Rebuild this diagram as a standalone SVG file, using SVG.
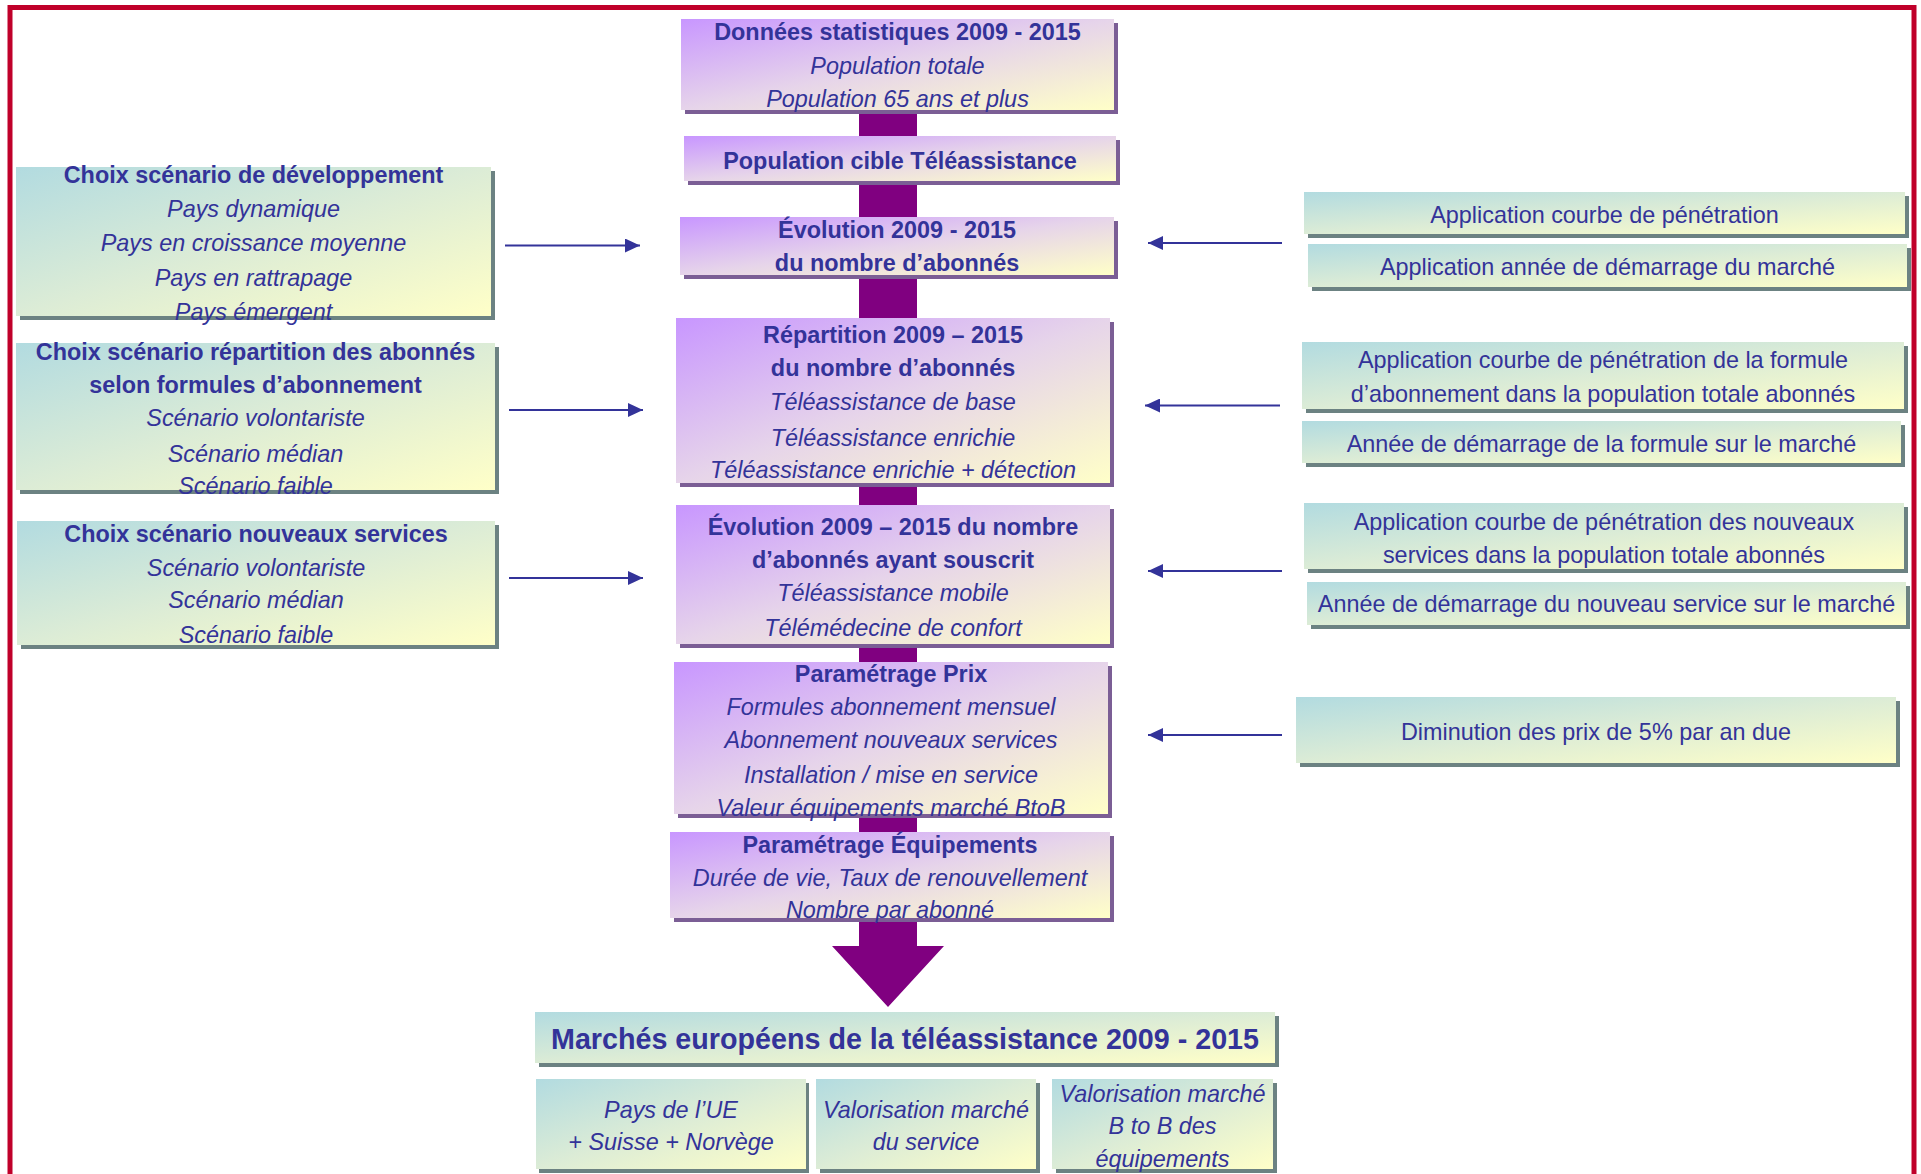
<svg xmlns="http://www.w3.org/2000/svg" width="1921" height="1174" viewBox="0 0 1921 1174">
<style>
.t{font-family:"Liberation Sans",Arial,sans-serif;font-size:23.4px;fill:#333399;text-anchor:middle}
.b{font-weight:bold}
.i{font-style:italic}
.big{font-size:28.7px}
.pv{fill:url(#gp)}
.tl{fill:url(#gt)}
.sp{fill:#7b5e95}
.st{fill:#6c8282}
.ar{stroke:#333399;stroke-width:2.2;fill:none;marker-end:url(#ah)}
.bar{fill:#800080}
</style>
<defs>
<linearGradient id="gp" x1="0" y1="0" x2="1" y2="1">
<stop offset="0" stop-color="#c896ff"/>
<stop offset="0.5" stop-color="#e6d4ea"/>
<stop offset="1" stop-color="#ffffc8"/>
</linearGradient>
<linearGradient id="gt" x1="0" y1="0" x2="1" y2="1">
<stop offset="0" stop-color="#b2dbe0"/>
<stop offset="0.5" stop-color="#dcecd6"/>
<stop offset="1" stop-color="#ffffc8"/>
</linearGradient>
<marker id="ah" viewBox="0 0 15 14" refX="15" refY="7" markerWidth="15" markerHeight="14" markerUnits="userSpaceOnUse" orient="auto">
<path d="M0,0 L15,7 L0,14 z" fill="#333399"/>
</marker>
</defs>
<rect x="0" y="0" width="1921" height="1174" fill="#ffffff"/>
<rect id="frame" x="10" y="7.5" width="1904" height="1250" fill="none" stroke="#c0002a" stroke-width="5"/>

<g id="connectors">
<rect class="bar" x="859" y="110" width="58" height="30"/>
<rect class="bar" x="859" y="181" width="58" height="40"/>
<rect class="bar" x="859" y="275" width="58" height="47"/>
<rect class="bar" x="859" y="483" width="58" height="26"/>
<rect class="bar" x="859" y="644" width="58" height="22"/>
<rect class="bar" x="859" y="814" width="58" height="22"/>
<polygon class="bar" points="859,918 917,918 917,946 944,946 888,1007 832,946 859,946"/>
<line class="ar" x1="505" y1="245.5" x2="640" y2="245.5"/>
<line class="ar" x1="509" y1="410" x2="643" y2="410"/>
<line class="ar" x1="509" y1="578" x2="643" y2="578"/>
<line class="ar" x1="1282" y1="243" x2="1148" y2="243"/>
<line class="ar" x1="1280" y1="405.5" x2="1145" y2="405.5"/>
<line class="ar" x1="1282" y1="571" x2="1148" y2="571"/>
<line class="ar" x1="1282" y1="735" x2="1148" y2="735"/>
</g>

<g id="c1">
<rect class="sp" x="685" y="23" width="433" height="91"/>
<rect class="pv" x="681" y="19" width="433" height="91"/>
<text class="t b" x="897.5" y="40">Données statistiques 2009 - 2015</text>
<text class="t i" x="897.5" y="73.5">Population totale</text>
<text class="t i" x="897.5" y="107">Population 65 ans et plus</text>
</g>
<g id="c2">
<rect class="sp" x="688" y="140" width="432" height="45"/>
<rect class="pv" x="684" y="136" width="432" height="45"/>
<text class="t b" x="900" y="168.5">Population cible Téléassistance</text>
</g>
<g id="c3">
<rect class="sp" x="684" y="221" width="434" height="58"/>
<rect class="pv" x="680" y="217" width="434" height="58"/>
<text class="t b" x="897" y="238">Évolution 2009 - 2015</text>
<text class="t b" x="897" y="271">du nombre d’abonnés</text>
</g>
<g id="c4">
<rect class="sp" x="680" y="322" width="434" height="165"/>
<rect class="pv" x="676" y="318" width="434" height="165"/>
<text class="t b" x="893" y="343">Répartition 2009 – 2015</text>
<text class="t b" x="893" y="376">du nombre d’abonnés</text>
<text class="t i" x="893" y="410">Téléassistance de base</text>
<text class="t i" x="893" y="445.5">Téléassistance enrichie</text>
<text class="t i" x="893" y="478">Téléassistance enrichie + détection</text>
</g>
<g id="c5">
<rect class="sp" x="680" y="509" width="434" height="139"/>
<rect class="pv" x="676" y="505" width="434" height="139"/>
<text class="t b" x="893" y="534.5">Évolution 2009 – 2015 du nombre</text>
<text class="t b" x="893" y="568">d’abonnés ayant souscrit</text>
<text class="t i" x="893" y="600.5">Téléassistance mobile</text>
<text class="t i" x="893" y="636">Télémédecine de confort</text>
</g>
<g id="c6">
<rect class="sp" x="678" y="666" width="434" height="152"/>
<rect class="pv" x="674" y="662" width="434" height="152"/>
<text class="t b" x="891" y="682">Paramétrage Prix</text>
<text class="t i" x="891" y="714.5">Formules abonnement mensuel</text>
<text class="t i" x="891" y="747.5">Abonnement nouveaux services</text>
<text class="t i" x="891" y="782.5">Installation / mise en service</text>
<text class="t i" x="891" y="816">Valeur équipements marché BtoB</text>
</g>
<g id="c7">
<rect class="sp" x="674" y="836" width="440" height="86"/>
<rect class="pv" x="670" y="832" width="440" height="86"/>
<text class="t b" x="890" y="852.5">Paramétrage Équipements</text>
<text class="t i" x="890" y="885.5">Durée de vie, Taux de renouvellement</text>
<text class="t i" x="890" y="918">Nombre par abonné</text>
</g>

<g id="l1">
<rect class="st" x="20" y="171" width="475" height="149"/>
<rect class="tl" x="16" y="167" width="475" height="149"/>
<text class="t b" x="253.5" y="183">Choix scénario de développement</text>
<text class="t i" x="253.5" y="216.5">Pays dynamique</text>
<text class="t i" x="253.5" y="251">Pays en croissance moyenne</text>
<text class="t i" x="253.5" y="286">Pays en rattrapage</text>
<text class="t i" x="253.5" y="319.5">Pays émergent</text>
</g>
<g id="l2">
<rect class="st" x="20" y="347" width="479" height="147"/>
<rect class="tl" x="16" y="343" width="479" height="147"/>
<text class="t b" x="255.5" y="360">Choix scénario répartition des abonnés</text>
<text class="t b" x="255.5" y="393">selon formules d’abonnement</text>
<text class="t i" x="255.5" y="426">Scénario volontariste</text>
<text class="t i" x="255.5" y="461.5">Scénario médian</text>
<text class="t i" x="255.5" y="494">Scénario faible</text>
</g>
<g id="l3">
<rect class="st" x="21" y="525" width="478" height="124"/>
<rect class="tl" x="17" y="521" width="478" height="124"/>
<text class="t b" x="256" y="542">Choix scénario nouveaux services</text>
<text class="t i" x="256" y="575.5">Scénario volontariste</text>
<text class="t i" x="256" y="608">Scénario médian</text>
<text class="t i" x="256" y="643">Scénario faible</text>
</g>

<g id="r1">
<rect class="st" x="1308" y="196" width="601" height="42"/>
<rect class="tl" x="1304" y="192" width="601" height="42"/>
<text class="t" x="1604.5" y="223">Application courbe de pénétration</text>
</g>
<g id="r2">
<rect class="st" x="1312" y="248" width="599" height="43"/>
<rect class="tl" x="1308" y="244" width="599" height="43"/>
<text class="t" x="1607.5" y="275">Application année de démarrage du marché</text>
</g>
<g id="r3">
<rect class="st" x="1306" y="346" width="602" height="67"/>
<rect class="tl" x="1302" y="342" width="602" height="67"/>
<text class="t" x="1603" y="368">Application courbe de pénétration de la formule</text>
<text class="t" x="1603" y="402">d’abonnement dans la population totale abonnés</text>
</g>
<g id="r4">
<rect class="st" x="1306" y="425" width="599" height="42"/>
<rect class="tl" x="1302" y="421" width="599" height="42"/>
<text class="t" x="1601.5" y="451.5">Année de démarrage de la formule sur le marché</text>
</g>
<g id="r5">
<rect class="st" x="1308" y="507" width="600" height="66"/>
<rect class="tl" x="1304" y="503" width="600" height="66"/>
<text class="t" x="1604" y="530">Application courbe de pénétration des nouveaux</text>
<text class="t" x="1604" y="563">services dans la population totale abonnés</text>
</g>
<g id="r6">
<rect class="st" x="1311" y="586" width="599" height="43"/>
<rect class="tl" x="1307" y="582" width="599" height="43"/>
<text class="t" x="1606.5" y="612">Année de démarrage du nouveau service sur le marché</text>
</g>
<g id="r7">
<rect class="st" x="1300" y="701" width="600" height="66"/>
<rect class="tl" x="1296" y="697" width="600" height="66"/>
<text class="t" x="1596" y="740">Diminution des prix de 5% par an due</text>
</g>

<g id="m">
<rect class="st" x="539" y="1016" width="740" height="51"/>
<rect class="tl" x="535" y="1012" width="740" height="51"/>
<text class="t b big" x="905" y="1048.5">Marchés européens de la téléassistance 2009 - 2015</text>
</g>
<g id="b1">
<rect class="st" x="539" y="1083" width="270" height="90"/>
<rect class="tl" x="536" y="1079" width="270" height="90"/>
<text class="t i" x="671" y="1118">Pays de l’UE</text>
<text class="t i" x="671" y="1150">+ Suisse + Norvège</text>
</g>
<g id="b2">
<rect class="st" x="820" y="1083" width="220" height="90"/>
<rect class="tl" x="816" y="1079" width="220" height="90"/>
<text class="t i" x="926" y="1117.5">Valorisation marché</text>
<text class="t i" x="926" y="1150">du service</text>
</g>
<g id="b3">
<rect class="st" x="1056" y="1083" width="221" height="90"/>
<rect class="tl" x="1052" y="1079" width="221" height="90"/>
<text class="t i" x="1162.5" y="1101.5">Valorisation marché</text>
<text class="t i" x="1162.5" y="1134">B to B des</text>
<text class="t i" x="1162.5" y="1167">équipements</text>
</g>
</svg>
